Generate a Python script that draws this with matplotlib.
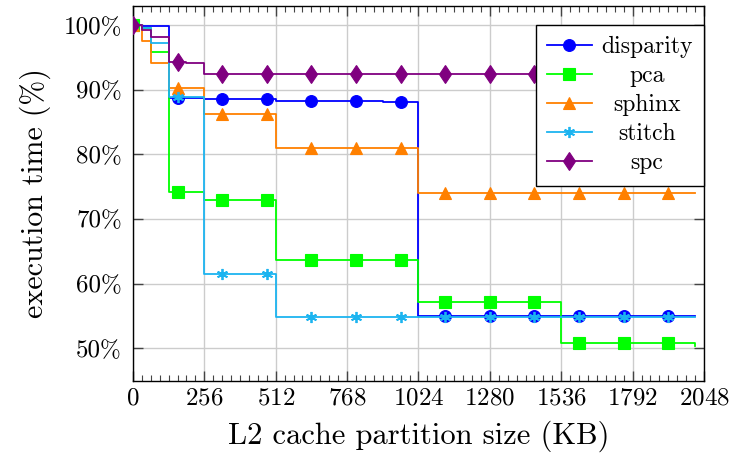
import matplotlib
matplotlib.use("Agg")
import matplotlib.pyplot as plt
from matplotlib.ticker import MultipleLocator, FuncFormatter

plt.rcParams['font.family'] = ['cmr10', 'DejaVu Serif']
plt.rcParams['axes.formatter.use_mathtext'] = True
plt.rcParams['mathtext.fontset'] = 'cm'

# L2 partition sizes (KB), one sample every 32 KB
sizes = list(range(0, 2048, 32))

disparity = [100.0, 99.9, 99.9, 99.9] + [88.7] * 4 + [88.5] * 8 + [88.3] * 8 + [88.2] * 4 + [88.1] * 4 + [55.0] * 32
pca = [100.0, 99.5, 95.9, 95.9] + [74.2] * 4 + [72.9] * 8 + [63.7] * 16 + [57.2] * 16 + [50.8] * 15 + [50.3]
sphinx = [100.0, 97.5, 94.1, 94.1] + [90.2] * 4 + [86.2] * 8 + [81.0] * 16 + [74.0] * 32
stitch = [100.0, 99.6, 97.2, 97.2] + [88.9] * 4 + [61.5] * 8 + [54.8] * 48
spc = [100.0, 99.2, 98.2, 98.2] + [94.3, 94.3, 94.1, 94.1] + [92.4] * 56

series_names = ["disparity", "pca", "sphinx", "stitch", "spc"]
series_values = [disparity, pca, sphinx, stitch, spc]
colors = ["#0000ff", "#00ff00", "#ff8000", "#1cb4f0", "#800080"]
markers = ["o", "s", "^", (6, 2, 0), "d"]
msizes = [8.5, 9, 8.5, 8, 9.5]

xticks = [0, 256, 512, 768, 1024, 1280, 1536, 1792, 2048]
yticks = [50, 60, 70, 80, 90, 100]

fig = plt.figure(figsize=(7.33, 4.57), dpi=100)
ax = fig.add_axes([0.1814, 0.167, 0.779, 0.8205])

for name, vals, c, m, ms in zip(series_names, series_values, colors, markers, msizes):
    ax.plot(sizes, vals, drawstyle='steps-post', color=c, lw=1.3,
            marker=m, markevery=5, ms=ms, mfc=c, mec=c,
            mew=1.3 if m == (6, 2, 0) else 0.8, label=name, zorder=3)

ax.set_xlim(0, 2048)
ax.set_ylim(45, 103)
ax.set_xticks(xticks)
ax.set_yticks(yticks)
ax.xaxis.set_minor_locator(MultipleLocator(32))
ax.yaxis.set_major_formatter(FuncFormatter(lambda v, p: f"{int(v)}%"))
ax.tick_params(axis='both', which='major', direction='in', length=7, width=1,
               top=True, right=True, labelsize=18, color='#444444', pad=6)
ax.tick_params(axis='x', which='minor', direction='in', length=4.5, width=0.8,
               top=True, bottom=True, color='#444444')
ax.tick_params(axis='x', which='major', pad=5)
ax.tick_params(axis='y', which='major', pad=8)
ax.grid(True, which='major', color='#cccccc', lw=1)
ax.set_axisbelow(True)
for s in ax.spines.values():
    s.set_color('black')
    s.set_linewidth(1)

ax.set_xlabel("L2 cache partition size (KB)", fontsize=22, labelpad=8)
ax.set_ylabel("execution time (%)", fontsize=21.5, labelpad=9)

leg = ax.legend(loc='upper right', bbox_to_anchor=(1.0, 0.949), borderaxespad=0,
                fontsize=17, fancybox=False, framealpha=1, edgecolor='black',
                handlelength=1.9, labelspacing=0.29, borderpad=0.48,
                handletextpad=0.4)
leg.get_frame().set_linewidth(1)

fig.canvas.draw()
renderer = fig.canvas.get_renderer()
widths = [t.get_window_extent(renderer).width for t in leg.get_texts()]
wmax = max(widths)
for t, w in zip(leg.get_texts(), widths):
    t.set_position(((wmax - w) / 2, 0))

fig.savefig("out.png", dpi=100)
